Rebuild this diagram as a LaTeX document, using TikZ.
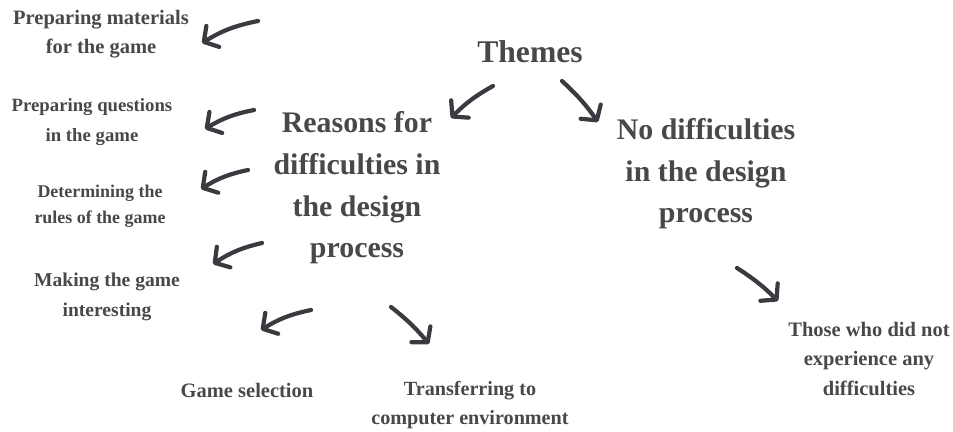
\documentclass[tikz,border=0pt]{standalone}
\usepackage{fontspec}
\setmainfont{Liberation Serif}
\usetikzlibrary{arrows, arrows.meta}
\usetikzlibrary{positioning}
\usepackage{xcolor}

\definecolor{inkgray}{RGB}{60,58,64}
\definecolor{textgray}{RGB}{72,72,74}

\tikzset{
  theme/.style={text=textgray, font=\fontsize{25.5}{35.5}\selectfont\bfseries, align=center, inner sep=0pt},
  code/.style={text=textgray, font=\fontsize{17.5}{25}\selectfont\bfseries, align=center, inner sep=0pt},
  brush/.style={inkgray, line width=3.6pt, line cap=round,
    -{Straight Barb[length=9pt, width=21pt, line width=3.6pt, round]}}
}

\begin{document}
\begin{tikzpicture}[x=0.03cm, y=-0.03cm]

%frame
\useasboundingbox (0,0) rectangle (953,432);

%labels
\node [theme, font=\fontsize{27}{34}\selectfont\bfseries] (themes) at (530,52) {Themes};
\node [theme] (reasons) at (357,188) {Reasons for\\difficulties in\\the design\\process};
\node [theme] (nodiff) at (706,174) {No difficulties\\in the design\\process};

\node [code] (materials) at (101,34) {Preparing materials\\for the game};
\node [code, font=\fontsize{16}{25}\selectfont\bfseries] (questions) at (92,122) {Preparing questions\\in the game};
\node [code, font=\fontsize{15.3}{22.5}\selectfont\bfseries] (rules) at (100,206) {Determining the\\rules of the game};
\node [code, font=\fontsize{16.7}{25}\selectfont\bfseries] (interest) at (107,297) {Making the game\\interesting};
\node [code] (selection) at (247,390) {Game selection};
\node [code, font=\fontsize{17.2}{25}\selectfont\bfseries] (transfer) at (470,405) {Transferring to\\computer environment};
\node [code] (noexp) at (869,359) {Those who did not\\experience any\\difficulties};

%arrow ends
\coordinate (t1) at (258,21);  \coordinate (h1) at (202,43);
\coordinate (t2) at (254,110); \coordinate (h2) at (205,129);
\coordinate (t3) at (248,170); \coordinate (h3) at (201,189);
\coordinate (t4) at (262,243); \coordinate (h4) at (213,264);
\coordinate (t5) at (311,310); \coordinate (h5) at (261,330);
\coordinate (t6) at (391,307); \coordinate (h6) at (429,344);
\coordinate (t7) at (493,86);  \coordinate (h7) at (451,118);
\coordinate (t8) at (562,81);  \coordinate (h8) at (598,122);
\coordinate (t9) at (737,268); \coordinate (h9) at (778,301);

%arrows
\draw [brush] (t1) to[bend right=10] (h1);
\draw [brush] (t2) to[bend right=10] (h2);
\draw [brush] (t3) to[bend right=10] (h3);
\draw [brush] (t4) to[bend right=10] (h4);
\draw [brush] (t5) to[bend right=10] (h5);
\draw [brush] (t6) to[bend left=6] (h6);
\draw [brush] (t7) to[bend right=8] (h7);
\draw [brush] (t8) to[bend left=6] (h8);
\draw [brush] (t9) to[bend left=6] (h9);

\end{tikzpicture}
\end{document}
